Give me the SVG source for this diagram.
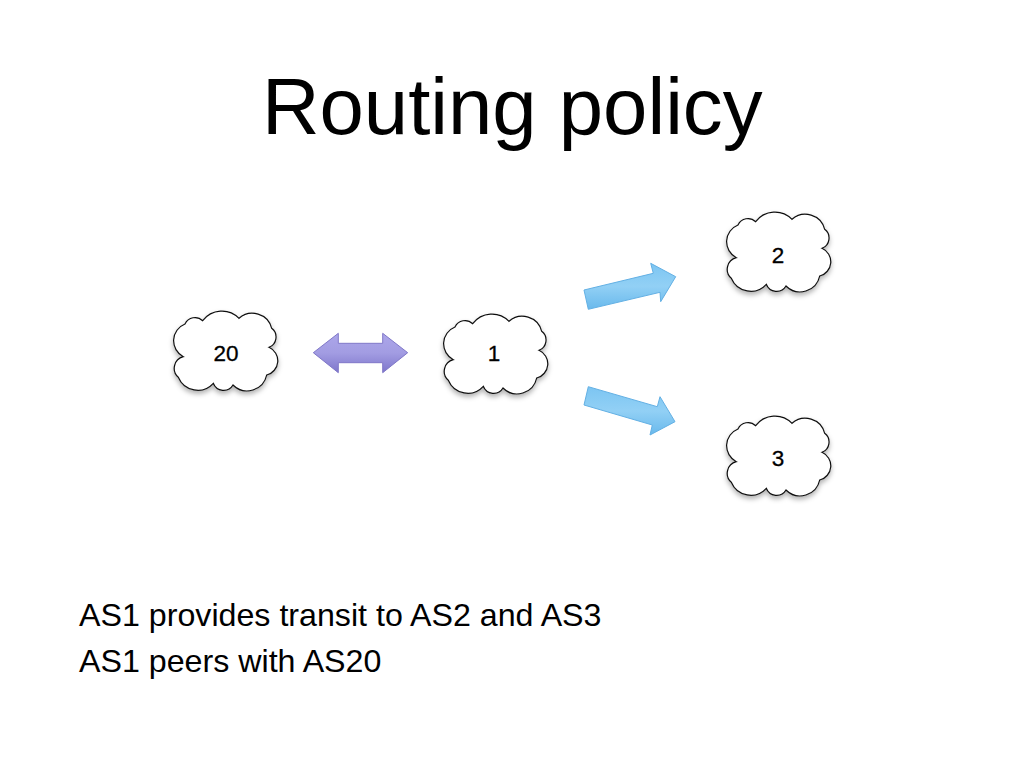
<svg xmlns="http://www.w3.org/2000/svg" width="1024" height="768" viewBox="0 0 1024 768">
<style>
text{font-family:"Liberation Sans",Arial,sans-serif;fill:#000}
.title{font-size:79.7px}
.body{font-size:32.2px}
.lab{font-size:22.5px;text-anchor:middle;stroke:#000;stroke-width:.3}
.cloud{fill:#fff;stroke:#111;stroke-width:1.2;filter:url(#sh)}
.blue{fill:url(#bg);stroke:#63b0e4;stroke-width:1}
.purple{fill:url(#pg);stroke:#8078c8;stroke-width:1}
</style>
<defs>
<filter id="sh" x="-15%" y="-15%" width="130%" height="140%"><feDropShadow dx="0" dy="3" stdDeviation="2.5" flood-color="#000" flood-opacity=".3"/></filter>
<linearGradient id="bg" x1="0" y1="0" x2="0" y2="1"><stop offset="0" stop-color="#7cc5f2"/><stop offset=".5" stop-color="#92d0f5"/><stop offset="1" stop-color="#69b9ec"/></linearGradient>
<linearGradient id="pg" x1="0" y1="0" x2="0" y2="1"><stop offset="0" stop-color="#aca6ea"/><stop offset=".5" stop-color="#a29ce2"/><stop offset="1" stop-color="#7e76cb"/></linearGradient>
<path id="c" d="M202.7 320.7A24 24 0 0 1 239 318.3A20 20 0 0 1 271.7 328.3A11 11 0 0 1 269 347.3A14.7 14.7 0 0 1 266.7 375A20 20 0 0 1 233 385A11 11 0 0 1 213.3 383.3A21 21 0 0 1 178.3 377.3A12 12 0 0 1 183.3 356.7A18 18 0 0 1 185 324A11 11 0 0 1 202.7 320.7Z"/>
</defs>
<text class="title" x="262" y="134">Routing policy</text>
<g id="connectors">
<path class="blue" d="M584 290L588.3 309.3L660 292.3L660.7 301.7L675.7 276.7L650.7 263.3L653.3 273.3Z"/>
<path class="blue" d="M584 405L588.3 386.7L657.3 406.7L660 396.7L675 421.7L650 435L652.3 425Z"/>
<path class="purple" d="M313.3 352.7L338.3 333.3V343.3H382.7V333.3L407.7 352.7L382.7 372.7V362.7H338.3V372.7Z"/>
</g>
<g id="node-20"><use href="#c" class="cloud"/><text class="lab" x="226" y="361">20</text></g>
<g id="node-1"><use href="#c" x="270" y="3" class="cloud"/><text class="lab" x="494" y="361">1</text></g>
<g id="node-2"><use href="#c" x="553" y="-99" class="cloud"/><text class="lab" x="778" y="263">2</text></g>
<g id="node-3"><use href="#c" x="553" y="105" class="cloud"/><text class="lab" x="778" y="466">3</text></g>
<g id="caption">
<text class="body" x="79" y="626">AS1 provides transit to AS2 and AS3</text>
<text class="body" x="79" y="672">AS1 peers with AS20</text>
</g>
</svg>
